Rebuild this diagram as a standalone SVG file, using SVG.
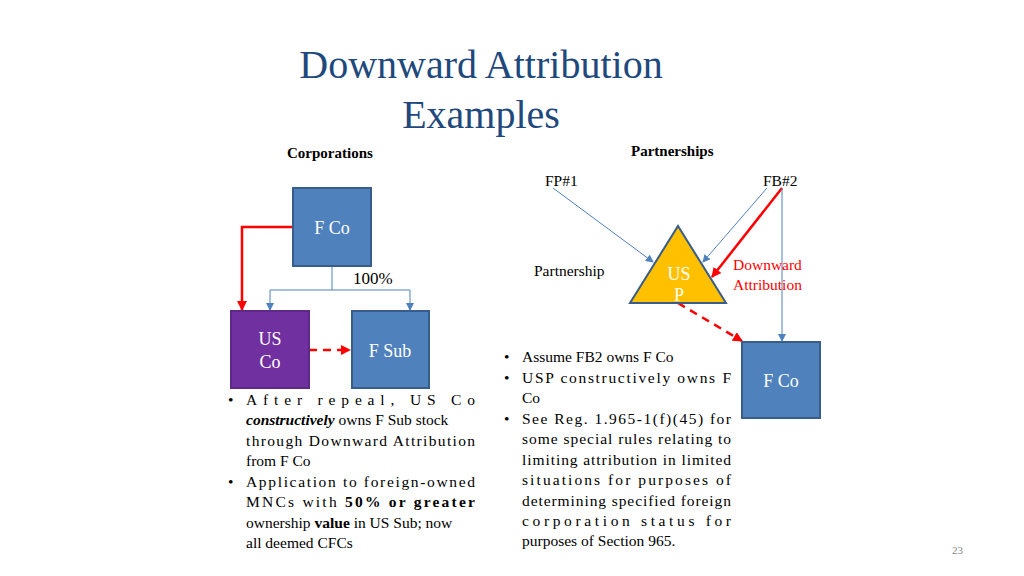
<svg xmlns="http://www.w3.org/2000/svg" width="1024" height="576" viewBox="0 0 1024 576">
<style>
text{font-family:"Liberation Serif",serif;}
.t{fill:#1F497D;font-size:40px;text-anchor:middle}
.h{font-size:15px;font-weight:bold}
.b{font-size:15.5px;fill:#000}
.box{fill:#4F81BD;stroke:#385D8A;stroke-width:2}
.wl{fill:#fff;font-size:18px;text-anchor:middle}
.blue{stroke:#4F81BD;stroke-width:1;fill:none}
.red{stroke:#FF0000;stroke-width:2.5;fill:none}
</style>
<defs>
<marker id="ab" markerWidth="8" markerHeight="8" refX="7" refY="4" orient="auto" markerUnits="userSpaceOnUse"><path d="M0,0L8,4L0,8z" fill="#4F81BD"/></marker>
<marker id="ar" markerWidth="10" markerHeight="10" refX="9" refY="5" orient="auto" markerUnits="userSpaceOnUse"><path d="M0,0L10,5L0,10z" fill="#FF0000"/></marker>
</defs>
<rect width="1024" height="576" fill="#fff"/>
<text class="t" x="481" y="78">Downward Attribution</text>
<text class="t" x="481" y="128">Examples</text>
<text class="h" x="287" y="158">Corporations</text>
<text class="h" x="631" y="156">Partnerships</text>
<g id="connectors">
<path class="blue" d="M332,266V290M270,290H410M270,290V310" marker-end="url(#ab)"/>
<path class="blue" d="M410,290V310" marker-end="url(#ab)"/>
<path class="red" d="M293,227H242V310" marker-end="url(#ar)"/>
<path class="red" d="M309,350H350" stroke-dasharray="8,6" marker-end="url(#ar)"/>
<path class="blue" d="M553,188L653,262" marker-end="url(#ab)"/>
<path class="blue" d="M767,188L703,262" marker-end="url(#ab)"/>
<path class="red" d="M782,188L712,277" marker-end="url(#ar)"/>
<path class="blue" d="M782,188V341" marker-end="url(#ab)"/>
<path class="red" d="M678,303L742,341" stroke-dasharray="8,6" marker-end="url(#ar)"/>
</g>
<g id="fco"><rect class="box" x="293" y="188" width="78" height="78"/><text class="wl" x="332" y="234">F Co</text></g>
<text x="353" y="284" font-size="17">100%</text>
<g id="usco"><rect x="231" y="311" width="78" height="77" fill="#7030A0" stroke="#5E2A86" stroke-width="2"/><text class="wl" x="270" y="345">US</text><text class="wl" x="270" y="368">Co</text></g>
<g id="fsub"><rect class="box" x="352" y="311" width="77" height="77"/><text class="wl" x="390" y="357">F Sub</text></g>
<text x="545" y="186" font-size="15.5">FP#1</text>
<text x="763" y="186" font-size="15.5">FB#2</text>
<text x="534" y="276" font-size="15.5">Partnership</text>
<g id="usp"><path d="M678,226L726,303H630z" fill="#FFC000" stroke="#385D8A" stroke-width="2"/><text class="wl" x="679" y="280">US</text><text class="wl" x="679" y="301">P</text></g>
<text x="733" y="270" font-size="15.5" fill="#FF0000">Downward</text>
<text x="733" y="290" font-size="15.5" fill="#FF0000">Attribution</text>
<g id="fco2"><rect class="box" x="742" y="342" width="78" height="76"/><text class="wl" x="781" y="387">F Co</text></g>
<g class="b">
<text x="228" y="405">•</text>
<text x="246" y="405" textLength="229" lengthAdjust="spacing">After repeal, US Co</text>
<text x="246" y="425"><tspan font-weight="bold" font-style="italic">constructively</tspan> owns F Sub stock</text>
<text x="246" y="446" textLength="229" lengthAdjust="spacing">through Downward Attribution</text>
<text x="246" y="466">from F Co</text>
<text x="228" y="487">•</text>
<text x="246" y="487" textLength="229" lengthAdjust="spacing">Application to foreign-owned</text>
<text x="246" y="507" textLength="229" lengthAdjust="spacing">MNCs with <tspan font-weight="bold">50% or greater</tspan></text>
<text x="246" y="528">ownership <tspan font-weight="bold">value</tspan> in US Sub; now</text>
<text x="246" y="548">all deemed CFCs</text>
<text x="504" y="362">•</text>
<text x="522" y="362">Assume FB2 owns F Co</text>
<text x="504" y="383">•</text>
<text x="522" y="383" textLength="209" lengthAdjust="spacing">USP constructively owns F</text>
<text x="522" y="403">Co</text>
<text x="504" y="424">•</text>
<text x="522" y="424" textLength="209" lengthAdjust="spacing">See Reg. 1.965-1(f)(45) for</text>
<text x="522" y="444" textLength="209" lengthAdjust="spacing">some special rules relating to</text>
<text x="522" y="465" textLength="209" lengthAdjust="spacing">limiting attribution in limited</text>
<text x="522" y="485" textLength="209" lengthAdjust="spacing">situations for purposes of</text>
<text x="522" y="506" textLength="209" lengthAdjust="spacing">determining specified foreign</text>
<text x="522" y="526" textLength="209" lengthAdjust="spacing">corporation status for</text>
<text x="522" y="546">purposes of Section 965.</text>
</g>
<text x="952" y="554" font-size="11" fill="#888" font-family="Liberation Sans,sans-serif">23</text>
</svg>
